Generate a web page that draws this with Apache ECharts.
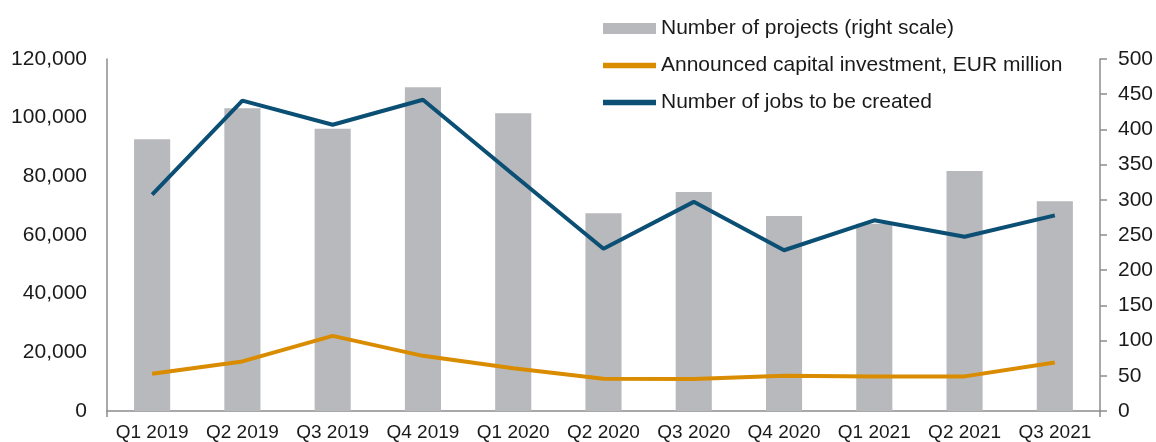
<!DOCTYPE html>
<html>
<head>
<meta charset="utf-8">
<script src="https://cdn.jsdelivr.net/npm/echarts@6/dist/echarts.min.js"></script>
<style>
  html, body { margin: 0; padding: 0; background: #fff; }
  #chart { width: 1156px; height: 442px; }
</style>
</head>
<body>
<div id="chart"></div>
<script>
  // data
  var quarters = ['Q1 2019', 'Q2 2019', 'Q3 2019', 'Q4 2019', 'Q1 2020', 'Q2 2020', 'Q3 2020', 'Q4 2020', 'Q1 2021', 'Q2 2021', 'Q3 2021']
  var projects = [386, 430, 401, 460, 423, 281, 311, 277, 266, 341, 298]
  var investment = [12700, 16900, 25600, 18800, 14600, 11000, 10900, 12000, 11800, 11800, 16500]
  var jobs = [73800, 105800, 97600, 106100, 80600, 55300, 71300, 54800, 65000, 59400, 66700]

  var font = 'Liberation Sans, Arial, sans-serif'
  var axisGray = '#8c8c8c'

  var myChart = echarts.init(document.getElementById('chart'))
  var option = {
    animation: false,
    textStyle: { fontFamily: font },
    legend: {
      orient: 'vertical',
      left: 598,
      top: 13,
      itemGap: 16,
      itemWidth: 53,
      itemHeight: 11,
      textStyle: { fontSize: 21, color: '#1a1a1a', fontFamily: font },
      data: [
        { name: 'Number of projects (right scale)', icon: 'rect' },
        { name: 'Announced capital investment, EUR million', icon: 'path://M0,0 L10,0 L10,1 L0,1 Z', itemStyle: { color: '#d98c00' } },
        { name: 'Number of jobs to be created', icon: 'path://M0,0 L10,0 L10,1 L0,1 Z', itemStyle: { color: '#0b4f74' } }
      ]
    },
    grid: {
      left: 107,
      right: 56,
      top: 59,
      bottom: 30
    },
    xAxis: {
      type: 'category',
      data: quarters,
      axisLine: { lineStyle: { color: axisGray, width: 1.5 } },
      axisTick: {
        show: true,
        length: 6,
        interval: function (index) { return index === 0 },
        lineStyle: { color: axisGray, width: 1.5 }
      },
      axisLabel: { color: '#1a1a1a', fontSize: 19, margin: 12, interval: 0 }
    },
    yAxis: [
      {
        type: 'value',
        min: 0,
        max: 120000,
        interval: 20000,
        splitLine: { show: false },
        axisLine: { show: true, lineStyle: { color: axisGray, width: 1.5 } },
        axisTick: { show: false },
        axisLabel: {
          color: '#1a1a1a',
          fontSize: 21,
          margin: 20,
          formatter: function (v) { return v.toLocaleString('en-US') }
        }
      },
      {
        type: 'value',
        min: 0,
        max: 500,
        interval: 50,
        position: 'right',
        splitLine: { show: false },
        axisLine: { show: true, lineStyle: { color: axisGray, width: 1.5 } },
        axisTick: { show: true, length: 7, inside: false, lineStyle: { color: axisGray, width: 1.5 } },
        axisLabel: { color: '#1a1a1a', fontSize: 21, margin: 18 }
      }
    ],
    series: [
      {
        name: 'Number of projects (right scale)',
        type: 'bar',
        yAxisIndex: 1,
        barWidth: '40%',
        itemStyle: { color: '#b8b9bc' },
        data: projects
      },
      {
        name: 'Announced capital investment, EUR million',
        type: 'line',
        yAxisIndex: 0,
        symbol: 'none',
        lineStyle: { color: '#d98c00', width: 4 },
        itemStyle: { color: '#d98c00' },
        data: investment
      },
      {
        name: 'Number of jobs to be created',
        type: 'line',
        yAxisIndex: 0,
        symbol: 'none',
        lineStyle: { color: '#0b4f74', width: 4 },
        itemStyle: { color: '#0b4f74' },
        data: jobs
      }
    ]
  }
  myChart.setOption(option)
</script>
</body>
</html>
